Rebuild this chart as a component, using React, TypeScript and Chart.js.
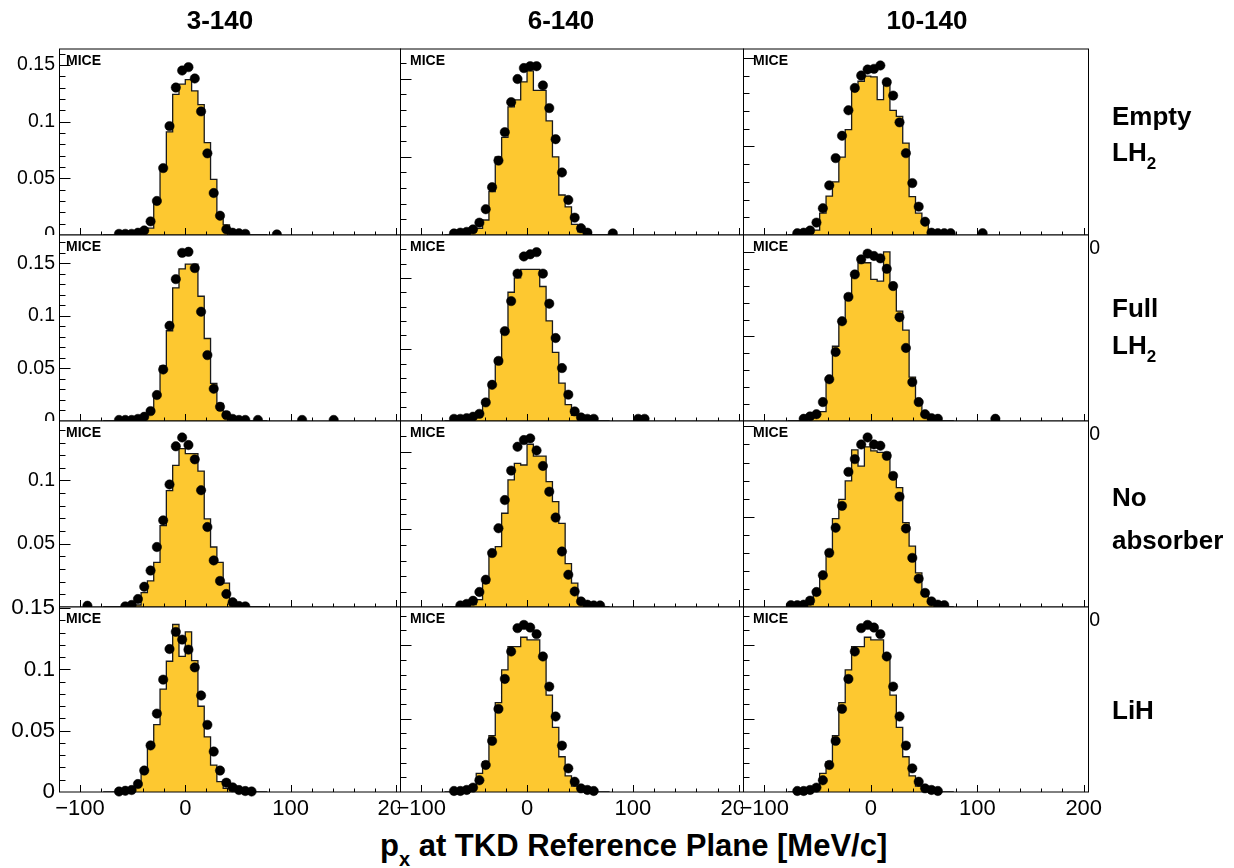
import React, { useEffect, useRef } from "react";
import { Chart, registerables } from "chart.js";

Chart.register(...registerables);
Chart.defaults.font.family = "'Liberation Sans', Arial, Helvetica, sans-serif";
Chart.defaults.color = "#000";

// ---------------- data ----------------
const COLUMN_TITLES = ["3-140", "6-140", "10-140"];
const ROW_NAMES = ["Empty LH2", "Full LH2", "No absorber", "LiH"];
const BIN_CENTERS = [-75, -69, -63, -57, -51, -45, -39, -33, -27, -21, -15, -9, -3, 3, 9, 15, 21, 27, 33, 39, 45, 51, 57, 63, 69, 75];
const BIN_WIDTH = 6;
const X_MIN = -120;
const X_MAX = 204;
const X_TICKS = [-100, 0, 100, 200];
const Y_TICKS = [0, 0.05, 0.1, 0.15];

// Empty LH2
const HIST_3_EMPTY = [0, 0, 0, 0, 0.0005, 0.001, 0.003, 0.006, 0.03, 0.059, 0.091, 0.124, 0.133, 0.137, 0.127, 0.115, 0.0815, 0.049, 0.019, 0.009, 0.003, 0.001, 0, 0, 0, 0];
const PTS_3_EMPTY = [null, null, 0.001, 0.001, 0.001, 0.002, 0.004, 0.012, 0.03, 0.059, 0.096, 0.13, 0.145, 0.148, 0.138, 0.109, 0.072, 0.037, 0.017, 0.005, 0.002, 0.0015, 0.001, null, null, null];
const OUT_3_EMPTY = [{ x: 87, y: 0.0005 }];
const HIST_6_EMPTY = [0, 0, 0, 0, 0.002, 0.0043, 0.0096, 0.0278, 0.05, 0.0624, 0.082, 0.0865, 0.098, 0.105, 0.0925, 0.0925, 0.073, 0.05, 0.0256, 0.018, 0.0068, 0.002, 0, 0, 0, 0];
const PTS_6_EMPTY = [null, 0.001, 0.0015, 0.002, 0.0036, 0.0079, 0.0165, 0.0306, 0.0476, 0.0658, 0.085, 0.0998, 0.1068, 0.108, 0.108, 0.0957, 0.0812, 0.0613, 0.04, 0.0224, 0.0111, 0.0043, 0.0015, null, null, null];
const OUT_6_EMPTY = [{ x: 81, y: 0.001 }];
const HIST_10_EMPTY = [0, 0, 0, 0.001, 0.0028, 0.0123, 0.022, 0.03, 0.044, 0.0595, 0.083, 0.0868, 0.0897, 0.0893, 0.0764, 0.0868, 0.0704, 0.067, 0.0519, 0.0217, 0.0123, 0.0066, 0.0025, 0, 0, 0];
const PTS_10_EMPTY = [null, 0.001, 0.0013, 0.0025, 0.007, 0.0151, 0.028, 0.0434, 0.056, 0.0704, 0.083, 0.09, 0.0934, 0.0938, 0.0957, 0.0863, 0.0787, 0.0636, 0.0462, 0.0293, 0.016, 0.0075, 0.0013, 0.001, 0.001, 0.001];
const OUT_10_EMPTY = [{ x: 105, y: 0.001 }];

// Full LH2
const HIST_3_FULL = [0, 0, 0, 0, 0.001, 0.003, 0.005, 0.0094, 0.0247, 0.0524, 0.0859, 0.1267, 0.1448, 0.1493, 0.1493, 0.1187, 0.0785, 0.0358, 0.0167, 0.0084, 0.004, 0.001, 0, 0, 0, 0];
const PTS_3_FULL = [null, null, 0.001, 0.001, 0.001, 0.002, 0.004, 0.0094, 0.0247, 0.049, 0.0906, 0.135, 0.16, 0.161, 0.1455, 0.104, 0.0627, 0.0307, 0.0135, 0.0056, 0.002, 0.001, 0.001, null, 0.001, null];
const OUT_3_FULL = [{ x: 111, y: 0.001 }, { x: 141, y: 0.001 }];
const HIST_6_FULL = [0, 0, 0, 0, 0.003, 0.0065, 0.015, 0.027, 0.04, 0.063, 0.09, 0.1, 0.106, 0.106, 0.106, 0.094, 0.07, 0.048, 0.0265, 0.0115, 0.004, 0.0015, 0, 0, 0, 0];
const PTS_6_FULL = [null, 0.0015, 0.0015, 0.002, 0.003, 0.005, 0.013, 0.0253, 0.042, 0.0628, 0.0838, 0.103, 0.115, 0.1165, 0.118, 0.103, 0.082, 0.058, 0.037, 0.0184, 0.0067, 0.0025, 0.0015, 0.0015, null, null];
const OUT_6_FULL = [{ x: 105, y: 0.0015 }, { x: 111, y: 0.0015 }];
const HIST_10_FULL = [0, 0, 0, 0.0017, 0.004, 0.0056, 0.0254, 0.0442, 0.06, 0.0748, 0.0877, 0.0936, 0.0936, 0.0837, 0.0827, 0.1, 0.0814, 0.065, 0.0537, 0.026, 0.0116, 0.0027, 0.001, 0, 0, 0];
const PTS_10_FULL = [null, null, 0.0013, 0.0027, 0.004, 0.0112, 0.0247, 0.0408, 0.059, 0.0734, 0.0867, 0.0956, 0.099, 0.0976, 0.0962, 0.09, 0.0798, 0.0614, 0.0432, 0.023, 0.0112, 0.004, 0.0017, 0.0013, null, null];
const OUT_10_FULL = [{ x: 117, y: 0.0013 }];

// No absorber
const HIST_3_NOABS = [0, 0, 0, 0, 0.001, 0.0016, 0.0114, 0.0206, 0.0352, 0.0643, 0.092, 0.1119, 0.1251, 0.1212, 0.1212, 0.1074, 0.0696, 0.0474, 0.0352, 0.0188, 0.0056, 0.001, 0, 0, 0, 0];
const PTS_3_NOABS = [null, null, null, 0.0005, 0.0016, 0.0063, 0.016, 0.0288, 0.0474, 0.0685, 0.0968, 0.127, 0.134, 0.128, 0.1167, 0.0923, 0.0632, 0.0368, 0.0206, 0.0103, 0.0037, 0.0008, 0.0005, null, null, null];
const OUT_3_NOABS = [{ x: -93, y: 0.001 }];
const HIST_6_NOABS = [0, 0, 0, 0.0012, 0.0015, 0.0047, 0.0154, 0.0347, 0.039, 0.0605, 0.082, 0.0927, 0.0916, 0.105, 0.0974, 0.0974, 0.0809, 0.068, 0.054, 0.028, 0.0154, 0.004, 0.0012, 0, 0, 0];
const PTS_6_NOABS = [null, null, 0.001, 0.002, 0.004, 0.0097, 0.0176, 0.0348, 0.0508, 0.069, 0.088, 0.1034, 0.1077, 0.1088, 0.101, 0.091, 0.0744, 0.0577, 0.0358, 0.0208, 0.01, 0.0036, 0.0015, 0.001, 0.001, null];
const OUT_6_NOABS: { x: number; y: number }[] = [];
const HIST_10_NOABS = [0, 0, 0, 0.0013, 0.0069, 0.0189, 0.031, 0.0489, 0.0596, 0.0698, 0.087, 0.078, 0.0887, 0.0865, 0.0856, 0.0856, 0.0739, 0.0661, 0.0467, 0.0337, 0.0189, 0.0087, 0.0022, 0, 0, 0];
const PTS_10_NOABS = [0.001, 0.001, 0.0013, 0.0035, 0.0083, 0.0176, 0.03, 0.0439, 0.056, 0.0748, 0.0819, 0.09, 0.0939, 0.09, 0.0893, 0.0837, 0.0726, 0.0611, 0.0435, 0.0272, 0.0157, 0.0078, 0.0031, 0.0013, 0.001, null];
const OUT_10_NOABS: { x: number; y: number }[] = [];

// LiH
const HIST_3_LIH = [0, 0, 0, 0, 0.002, 0.0085, 0.0166, 0.039, 0.055, 0.084, 0.1067, 0.1367, 0.1107, 0.1307, 0.1072, 0.07, 0.045, 0.022, 0.0085, 0.003, 0.001, 0, 0, 0, 0, 0];
const PTS_3_LIH = [null, null, 0.0004, 0.001, 0.0016, 0.0065, 0.0175, 0.038, 0.064, 0.0917, 0.1167, 0.1307, 0.1244, 0.1162, 0.1017, 0.0788, 0.0548, 0.033, 0.0175, 0.0076, 0.0038, 0.0016, 0.0008, 0.0004, null, null];
const OUT_3_LIH: { x: number; y: number }[] = [];
const HIST_6_LIH = [0, 0, 0, 0, 0.003, 0.0127, 0.0207, 0.0384, 0.0609, 0.0832, 0.099, 0.099, 0.1054, 0.1036, 0.1036, 0.092, 0.066, 0.044, 0.024, 0.011, 0.004, 0.0015, 0, 0, 0, 0];
const PTS_6_LIH = [null, 0.0007, 0.0007, 0.0014, 0.003, 0.008, 0.0184, 0.0348, 0.0566, 0.077, 0.0957, 0.1116, 0.1138, 0.112, 0.1075, 0.0923, 0.0718, 0.0514, 0.0316, 0.0161, 0.007, 0.0025, 0.0014, 0.0007, null, null];
const OUT_6_LIH: { x: number; y: number }[] = [];
const HIST_10_LIH = [0, 0, 0, 0, 0.003, 0.0127, 0.0207, 0.0384, 0.0609, 0.0832, 0.099, 0.099, 0.1054, 0.1036, 0.1036, 0.092, 0.066, 0.044, 0.024, 0.011, 0.004, 0.0015, 0, 0, 0, 0];
const PTS_10_LIH = [null, 0.0007, 0.0007, 0.0014, 0.003, 0.008, 0.0184, 0.0348, 0.0566, 0.077, 0.0957, 0.1116, 0.1138, 0.112, 0.1075, 0.0923, 0.0718, 0.0514, 0.0316, 0.0161, 0.007, 0.0025, 0.0014, 0.0007, null, null];
const OUT_10_LIH: { x: number; y: number }[] = [];

const Y_MAX_EMPTY = [0.164, 0.119, 0.105];
const Y_MAX_FULL = [0.177, 0.13, 0.11];
const Y_MAX_NOABS = [0.147, 0.12, 0.103];
const Y_MAX_LIH = [0.151, 0.126, 0.126];

const HISTS = [
  [HIST_3_EMPTY, HIST_6_EMPTY, HIST_10_EMPTY],
  [HIST_3_FULL, HIST_6_FULL, HIST_10_FULL],
  [HIST_3_NOABS, HIST_6_NOABS, HIST_10_NOABS],
  [HIST_3_LIH, HIST_6_LIH, HIST_10_LIH],
];
const POINTS = [
  [PTS_3_EMPTY, PTS_6_EMPTY, PTS_10_EMPTY],
  [PTS_3_FULL, PTS_6_FULL, PTS_10_FULL],
  [PTS_3_NOABS, PTS_6_NOABS, PTS_10_NOABS],
  [PTS_3_LIH, PTS_6_LIH, PTS_10_LIH],
];
const OUTLIERS = [
  [OUT_3_EMPTY, OUT_6_EMPTY, OUT_10_EMPTY],
  [OUT_3_FULL, OUT_6_FULL, OUT_10_FULL],
  [OUT_3_NOABS, OUT_6_NOABS, OUT_10_NOABS],
  [OUT_3_LIH, OUT_6_LIH, OUT_10_LIH],
];
const Y_MAX = [Y_MAX_EMPTY, Y_MAX_FULL, Y_MAX_NOABS, Y_MAX_LIH];

// ---------------- layout ----------------
const FRAME_X = [59, 400, 743, 1088];
const FRAME_Y = [49, 235, 421, 607, 792];
const FILL = "#FDC830";
const FONT = "'Liberation Sans', Arial, Helvetica, sans-serif";

function fmtX(v: number) {
  return v < 0 ? "\u2212" + Math.abs(v) : String(v);
}

function Panel({ row, col }: { row: number; col: number }) {
  const ref = useRef<HTMLCanvasElement>(null);
  const isBottom = row === 3;
  const padLeft = col === 0 ? 0 : 20;
  const yAxisW = col === 0 ? FRAME_X[0] : 0;
  const padRight = 25;
  const padTop = 18;
  const xAxisH = isBottom ? 32 : 26;
  const frameW = FRAME_X[col + 1] - FRAME_X[col];
  const frameH = FRAME_Y[row + 1] - FRAME_Y[row];
  const width = padLeft + yAxisW + frameW + padRight;
  const height = padTop + frameH + xAxisH;
  const left = col === 0 ? 0 : FRAME_X[col] - padLeft;
  const top = FRAME_Y[row] - padTop;

  useEffect(() => {
    const canvas = ref.current;
    if (!canvas) return;
    const ymax = Y_MAX[row][col];
    const hist = HISTS[row][col];
    const pts = POINTS[row][col];
    const outs = OUTLIERS[row][col];

    const histData = BIN_CENTERS.map((c, i) => ({ x: c - BIN_WIDTH / 2, y: hist[i] }));
    histData.push({ x: BIN_CENTERS[BIN_CENTERS.length - 1] + BIN_WIDTH / 2, y: hist[hist.length - 1] });
    const pointData: { x: number; y: number | null }[] = BIN_CENTERS.map((c, i) => ({ x: c, y: pts[i] }));
    outs.forEach((o) => pointData.push({ x: o.x, y: o.y }));

    const labelSize = isBottom ? 22.5 : 19.5;
    const xLabelSize = isBottom ? 22 : 19.5;
    // the 0 label of the third row is hidden under the bottom row's "0.15"
    const yTickValues = Y_TICKS.filter((v) => v <= ymax && !(row === 2 && v === 0));

    const padPlugin = {
      id: "padBackground",
      beforeDraw(chart: any) {
        const { ctx, chartArea: a } = chart;
        ctx.save();
        ctx.fillStyle = "#fff";
        const x0 = col === 0 ? 0 : Math.round(a.left);
        const y0 = Math.round(a.top);
        const y1 = isBottom ? chart.height : Math.round(a.bottom);
        ctx.fillRect(x0, y0, Math.round(a.right) - x0, y1 - y0);
        ctx.restore();
      },
    };

    const framePlugin = {
      id: "frameTicks",
      afterDraw(chart: any) {
        const { ctx, chartArea: a, scales } = chart;
        const xs = scales.x;
        const ys = scales.y;
        const l = Math.round(a.left) + 0.5;
        const r = Math.round(a.right) + 0.5;
        const t = Math.round(a.top);
        const b = Math.round(a.bottom);
        ctx.save();
        ctx.strokeStyle = "#000";
        ctx.lineWidth = 1;
        ctx.beginPath();
        for (let k = -6; k * 20 <= X_MAX; k++) {
          const v = k * 20;
          if (v <= X_MIN) continue;
          const px = Math.round(xs.getPixelForValue(v)) + 0.5;
          if (px >= r - 1) continue;
          const len = v % 100 === 0 ? 7 : 3.5;
          ctx.moveTo(px, b);
          ctx.lineTo(px, b - len);
        }
        for (let k = 1; k * 0.01 < ymax; k++) {
          const py = Math.round(ys.getPixelForValue(k * 0.01)) + 0.5;
          const len = k % 5 === 0 ? 11 : 6;
          ctx.moveTo(l, py);
          ctx.lineTo(l + len, py);
        }
        ctx.stroke();
        // frame: vertical lines crisp, horizontal lines on the pixel boundary
        ctx.beginPath();
        ctx.moveTo(l, t);
        ctx.lineTo(l, b);
        ctx.moveTo(r, t);
        ctx.lineTo(r, b);
        ctx.moveTo(l - 0.5, t);
        ctx.lineTo(r + 0.5, t);
        ctx.moveTo(l - 0.5, b);
        ctx.lineTo(r + 0.5, b);
        ctx.stroke();
        // MICE label
        ctx.fillStyle = "#000";
        ctx.font = `bold 14px ${FONT}`;
        ctx.textBaseline = "alphabetic";
        ctx.textAlign = "left";
        ctx.fillText("MICE", a.left + (col === 0 ? 7 : 10), a.top + 16);
        ctx.restore();
      },
    };

    const chart = new Chart(canvas, {
      type: "line",
      data: {
        datasets: [
          {
            label: "data",
            data: pointData as any,
            showLine: false,
            pointRadius: 4.7,
            pointBackgroundColor: "#000",
            pointBorderColor: "#000",
            pointBorderWidth: 0.5,
            clip: false as any,
          },
          {
            label: "MC",
            data: histData as any,
            stepped: true,
            fill: "origin",
            backgroundColor: FILL,
            borderColor: "#1a1a1a",
            borderWidth: 1.3,
            pointRadius: 0,
            tension: 0,
          },
        ],
      },
      options: {
        animation: false,
        responsive: false,
        devicePixelRatio: 1,
        events: [],
        layout: { padding: { left: padLeft, right: padRight, top: padTop, bottom: 0 } },
        plugins: { legend: { display: false }, tooltip: { enabled: false } },
        scales: {
          x: {
            type: "linear",
            min: X_MIN,
            max: X_MAX,
            afterBuildTicks: (s: any) => {
              s.ticks = X_TICKS.map((v) => ({ value: v }));
            },
            afterFit: (s: any) => {
              s.height = xAxisH;
            },
            grid: { display: false, drawTicks: false },
            border: { display: false },
            ticks: {
              autoSkip: false,
              maxRotation: 0,
              padding: isBottom ? 4 : 2,
              color: "#000",
              font: { size: xLabelSize, family: FONT },
              callback: (v: any) => fmtX(Number(v)),
            },
          },
          y: {
            type: "linear",
            min: 0,
            max: ymax,
            display: col === 0,
            afterBuildTicks: (s: any) => {
              s.ticks = yTickValues.map((v) => ({ value: v }));
            },
            afterFit: (s: any) => {
              s.width = yAxisW;
            },
            grid: { display: false, drawTicks: false },
            border: { display: false },
            ticks: {
              autoSkip: false,
              padding: 4,
              color: "#000",
              font: { size: labelSize, family: FONT },
              callback: (v: any) => (Number(v) === 0 ? "0" : String(v)),
            },
          },
        },
      },
      plugins: [padPlugin, framePlugin],
    } as any);
    return () => chart.destroy();
  }, [row, col]);

  return (
    <canvas
      ref={ref}
      width={width}
      height={height}
      style={{ position: "absolute", left, top, width, height }}
    />
  );
}

const TITLE_STYLE: React.CSSProperties = {
  position: "absolute",
  fontFamily: FONT,
  fontWeight: "bold",
  fontSize: 26,
  lineHeight: "26px",
  whiteSpace: "nowrap",
  color: "#000",
};

function LH2({ top }: { top: number }) {
  return (
    <div style={{ ...TITLE_STYLE, left: 1112, top }}>
      LH
      <span style={{ fontSize: 17, position: "relative", top: 8 }}>2</span>
    </div>
  );
}

export default function App() {
  const cells = [];
  for (let r = 0; r < 4; r++) for (let c = 0; c < 3; c++) cells.push(<Panel key={`${r}-${c}`} row={r} col={c} />);
  const titleCenters = [220, 561, 927];
  return (
    <div
      style={{
        position: "absolute",
        left: 0,
        top: 0,
        width: 1234,
        height: 868,
        background: "#fff",
        overflow: "hidden",
      }}
      aria-label={ROW_NAMES.join(", ")}
    >
      {cells}
      {COLUMN_TITLES.map((t, i) => (
        <div key={t} style={{ ...TITLE_STYLE, left: titleCenters[i] - 100, width: 200, textAlign: "center", top: 7 }}>
          {t}
        </div>
      ))}
      <div style={{ ...TITLE_STYLE, left: 1112, top: 103 }}>Empty</div>
      <LH2 top={139} />
      <div style={{ ...TITLE_STYLE, left: 1112, top: 295 }}>Full</div>
      <LH2 top={332} />
      <div style={{ ...TITLE_STYLE, left: 1112, top: 484 }}>No</div>
      <div style={{ ...TITLE_STYLE, left: 1112, top: 527 }}>absorber</div>
      <div style={{ ...TITLE_STYLE, left: 1112, top: 697 }}>LiH</div>
      <div style={{ ...TITLE_STYLE, left: 380, top: 830, fontSize: 31, lineHeight: "31px" }}>
        p<span style={{ fontSize: 20, position: "relative", top: 10 }}>x</span> at TKD Reference Plane [MeV/c]
      </div>
    </div>
  );
}
